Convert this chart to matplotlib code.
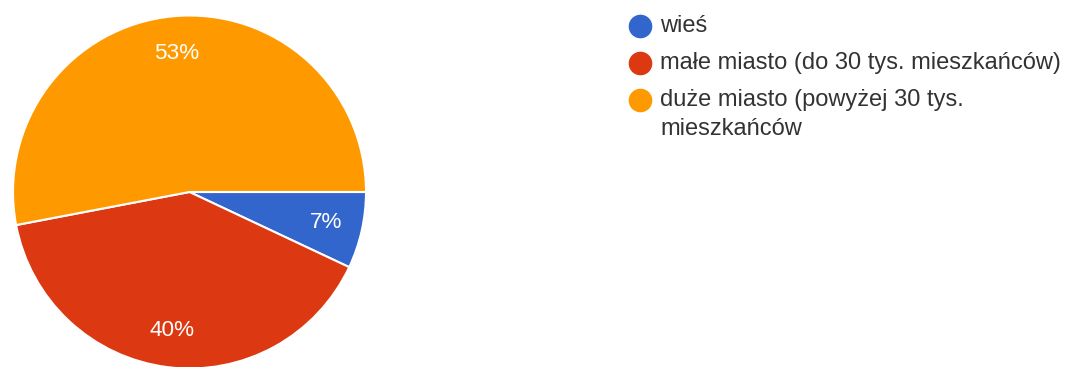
import matplotlib
matplotlib.use("Agg")
import matplotlib.pyplot as plt
from matplotlib.lines import Line2D

# Data
categories = ["wieś", "małe miasto (do 30 tys. mieszkańców)",
              "duże miasto (powyżej 30 tys.\nmieszkańców"]
values = [7, 40, 53]
colors = ["#3366cc", "#dc3912", "#ff9900"]

plt.rcParams['font.family'] = ['Liberation Sans', 'DejaVu Sans']

W, H = 1068, 367
fig = plt.figure(figsize=(W / 100, H / 100), dpi=100)
fig.patch.set_facecolor("white")

cx, cy, r = 189.5, 192.0, 176.5
ax = fig.add_axes([(cx - r) / W, (H - cy - r) / H, 2 * r / W, 2 * r / H])
wedges, texts, autotexts = ax.pie(
    values, colors=colors, startangle=0, counterclock=False, radius=1,
    autopct=lambda p: f"{p:.0f}%", pctdistance=0.79,
    wedgeprops=dict(edgecolor="white", linewidth=1.5),
    textprops=dict(color="white", fontsize=16.2))
ax.set_xlim(-1, 1)
ax.set_ylim(-1, 1)
ax.set_aspect("equal")
ax.axis("off")

# Legend (manual, Google Forms style)
row_y = [26, 63, 100]
line_gap = 29
circle_x = 640
text_x = 660
for cat, col, yy in zip(categories, colors, row_y):
    fig.add_artist(Line2D([circle_x / W], [1 - yy / H], marker="o",
                          markersize=16, color=col, linestyle="none",
                          transform=fig.transFigure))
    for k, line in enumerate(cat.split("\n")):
        fig.text(text_x / W, 1 - (yy + 6 + k * line_gap) / H, line,
                 fontsize=17, color="#333333", ha="left", va="baseline")

fig.savefig("out.png", dpi=100, facecolor="white")
